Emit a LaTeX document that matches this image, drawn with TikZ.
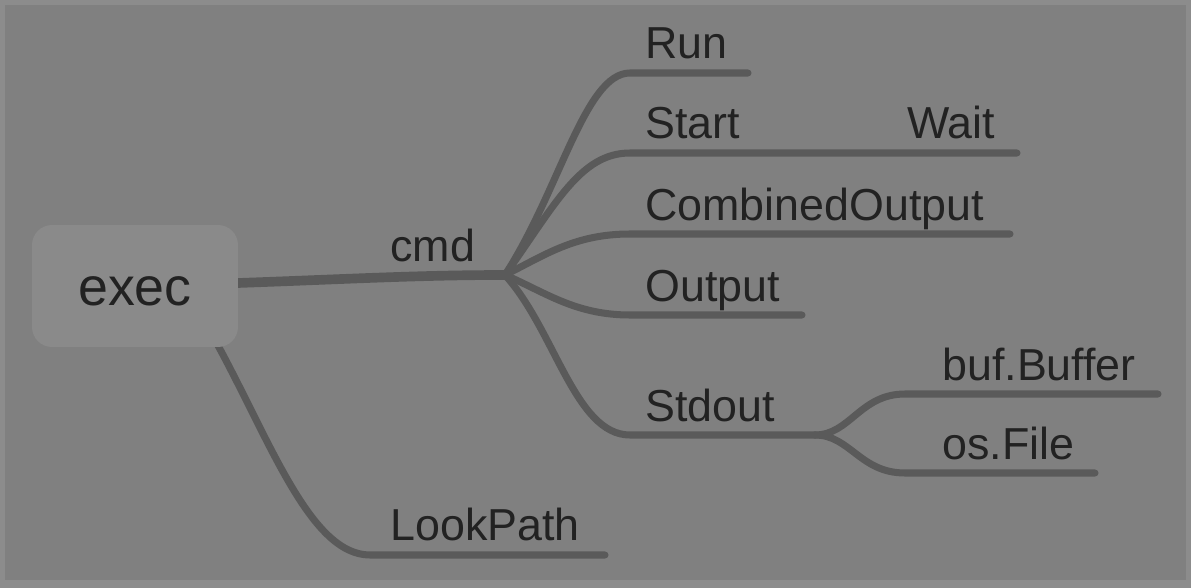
\documentclass[tikz,border=0pt]{standalone}
\usepackage{fontspec}
\setmainfont{Liberation Sans}
\definecolor{bgc}{HTML}{808080}
\definecolor{framec}{HTML}{8C8C8C}
\definecolor{boxc}{HTML}{8A8A8A}
\definecolor{linec}{HTML}{5A5A5A}
\definecolor{txtc}{HTML}{222222}
\begin{document}
\begin{tikzpicture}[x=0.02cm,y=-0.02cm,
  branch/.style={draw=linec, line width=4pt, line cap=round},
  lbl/.style={anchor=base west, inner sep=0, text=txtc, font=\fontsize{25.5}{30}\selectfont}]
\fill[framec] (0,0) rectangle (1191,588);
\fill[bgc] (5,5) rectangle (1186,580);
\useasboundingbox (0,0) rectangle (1191,588);
% coordinates
\coordinate (c0) at (238,283);
\coordinate (hub) at (505,275);
\coordinate (runA) at (630,73);   \coordinate (runB) at (748,73);
\coordinate (startA) at (630,153); \coordinate (startB) at (1017,153);
\coordinate (combA) at (630,234); \coordinate (combB) at (1010,234);
\coordinate (outA) at (630,315);  \coordinate (outB) at (802,315);
\coordinate (sdA) at (630,435);   \coordinate (sdB) at (815,435);
\coordinate (bufA) at (905,394);  \coordinate (bufB) at (1158,394);
\coordinate (fileA) at (905,473); \coordinate (fileB) at (1095,473);
\coordinate (lp0) at (215,340);
\coordinate (lpA) at (370,555);   \coordinate (lpB) at (605,555);
% connectors
\draw[branch, line width=5.5pt] (c0) .. controls (350,279) and (420,275) .. (hub);
\draw[branch] (hub) .. controls (560,190) and (585,73) .. (runA) -- (runB);
\draw[branch] (hub) .. controls (555,205) and (580,153) .. (startA) -- (startB);
\draw[branch] (hub) .. controls (545,255) and (575,234) .. (combA) -- (combB);
\draw[branch] (hub) .. controls (545,292) and (575,315) .. (outA) -- (outB);
\draw[branch] (hub) .. controls (555,330) and (575,435) .. (sdA) -- (sdB);
\draw[branch] (sdB) .. controls (850,435) and (860,394) .. (bufA) -- (bufB);
\draw[branch] (sdB) .. controls (850,435) and (860,473) .. (fileA) -- (fileB);
\draw[branch] (lp0) .. controls (270,440) and (310,555) .. (lpA) -- (lpB);
% root
\node[fill=boxc, rounded corners=0.4cm, minimum width=4.12cm, minimum height=2.44cm, inner sep=0] (exec) at (135,286) {};
\node[text=txtc, font=\fontsize{30.6}{36}\selectfont, inner sep=0] (execT) at (135,291) {exec};
% labels
\node[lbl] (cmd) at (390,261) {cmd};
\node[lbl] (run) at (645,59) {Run};
\node[lbl] (start) at (645,139) {Start};
\node[lbl] (wait) at (907,139) {Wait};
\node[lbl] (comb) at (645,220) {CombinedOutput};
\node[lbl] (out) at (645,301) {Output};
\node[lbl] (sd) at (645,421) {Stdout};
\node[lbl] (buf) at (942,380) {buf.Buffer};
\node[lbl] (file) at (942,459) {os.File};
\node[lbl] (lp) at (390,540) {LookPath};
\end{tikzpicture}
\end{document}
